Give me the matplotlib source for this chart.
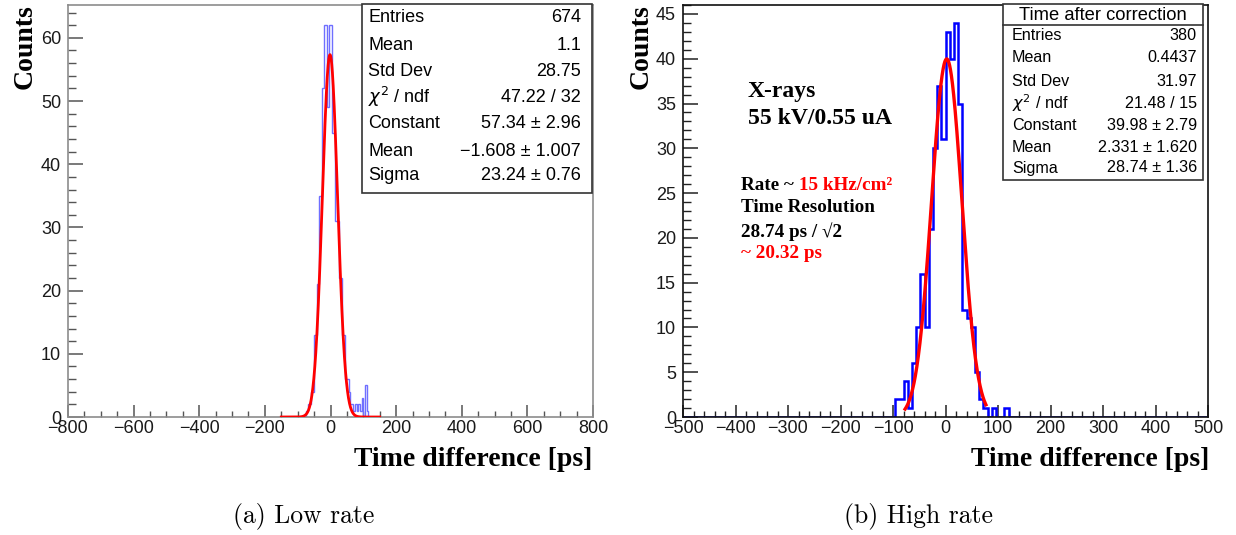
import numpy as np
import matplotlib
matplotlib.use("Agg")
import matplotlib.pyplot as plt
from matplotlib.ticker import MultipleLocator
from matplotlib.patches import Rectangle

# ---------------- data ----------------
left_bin_width = 5
left_first_edge = -75
left_counts = [1, 2, 2, 4, 4, 13, 13, 21, 35, 35, 52, 62, 62, 49, 62, 62,
               45, 45, 31, 31, 22, 22, 13, 13, 6, 6, 4, 2, 2, 1, 2, 1, 2, 1,
               3, 0, 5, 1]
left_fit_constant, left_fit_mean, left_fit_sigma = 57.34, -1.608, 23.24
left_fit_range = (-150, 150)
left_xlim = (-800, 800)
left_ylim = (0, 65.2)

right_bin_width = 8
right_first_edge = -96
right_counts = [2, 2, 4, 1, 6, 10, 16, 10, 21, 30, 37, 31, 43, 40, 44, 35,
                12, 11, 10, 5, 2, 1, 0, 1, 0, 0, 1]
right_fit_constant, right_fit_mean, right_fit_sigma = 39.98, 2.331, 28.74
right_fit_range = (-77, 77)
right_xlim = (-500, 500)
right_ylim = (0, 46)

left_stats_labels = ["Entries", "Mean", "Std Dev", r"$\chi^{2}$ / ndf", "Constant", "Mean", "Sigma"]
left_stats_values = ["674", "1.1", "28.75", "47.22 / 32", "57.34 ± 2.96", "\u22121.608 ± 1.007", "23.24 ± 0.76"]
right_stats_title = "Time after correction"
right_stats_labels = ["Entries", "Mean", "Std Dev", r"$\chi^{2}$ / ndf", "Constant", "Mean", "Sigma"]
right_stats_values = ["380", "0.4437", "31.97", "21.48 / 15", "39.98 ± 2.79", "2.331 ± 1.620", "28.74 ± 1.36"]

xlabel = "Time difference [ps]"
ylabel = "Counts"
captions = ["(a) Low rate", "(b) High rate"]

# ---------------- figure ----------------
W, H = 1236, 535
fig = plt.figure(figsize=(W / 100, H / 100), dpi=100)
fig.patch.set_facecolor("white")

SANS = ["Liberation Sans", "DejaVu Sans"]
SERIF = ["Liberation Serif", "DejaVu Serif"]
plt.rcParams["mathtext.fontset"] = "dejavusans"


def fx(px):
    return px / W


def fy(py):
    return 1 - py / H


def make_axes(x0, x1, y0, y1):
    return fig.add_axes([fx(x0), fy(y1), fx(x1) - fx(x0), fy(y0) - fy(y1)])


def gauss(x, c, m, s):
    return c * np.exp(-0.5 * ((x - m) / s) ** 2)


def style_axes(ax, xmaj, xmin, ymaj, ymin, frame_color, tick_color):
    for sp in ax.spines.values():
        sp.set_color(frame_color)
        sp.set_linewidth(1.2)
    ax.xaxis.set_major_locator(MultipleLocator(xmaj))
    ax.xaxis.set_minor_locator(MultipleLocator(xmin))
    ax.yaxis.set_major_locator(MultipleLocator(ymaj))
    ax.yaxis.set_minor_locator(MultipleLocator(ymin))
    ax.tick_params(axis="both", which="both", direction="in", colors=tick_color,
                   labelcolor="#1a1a1a", top=False, right=False)
    ax.tick_params(axis="x", which="major", length=9, width=1.1, pad=2)
    ax.tick_params(axis="x", which="minor", length=4.5, width=1.0)
    ax.tick_params(axis="y", which="major", length=11, width=1.1, pad=5)
    ax.tick_params(axis="y", which="minor", length=5.5, width=1.0)
    for lab in ax.get_xticklabels() + ax.get_yticklabels():
        lab.set_fontfamily(SANS)
        lab.set_fontsize(13)


# ---------- left panel ----------
axL = make_axes(68, 593, 5, 417)
edges = left_first_edge + left_bin_width * np.arange(len(left_counts) + 1)
axL.stairs(left_counts, edges, color="#6f6fff", linewidth=1.0, zorder=2)
xf = np.linspace(left_fit_range[0], left_fit_range[1], 600)
axL.plot(xf, gauss(xf, left_fit_constant, left_fit_mean, left_fit_sigma),
         color="#ff0000", linewidth=2.0, zorder=3)
axL.set_xlim(*left_xlim)
axL.set_ylim(*left_ylim)
style_axes(axL, 200, 50, 10, 2, "#8c8c8c", "#555555")

# ---------- right panel ----------
axR = make_axes(683, 1208, 5, 417)
n_pad_left = int((right_first_edge - (-504)) / right_bin_width)
full_counts = [0] * n_pad_left + right_counts
full_edges = -504 + right_bin_width * np.arange(len(full_counts) + 1)
tail = int((504 - full_edges[-1]) / right_bin_width)
full_counts = full_counts + [0] * tail
full_edges = -504 + right_bin_width * np.arange(len(full_counts) + 1)
axR.stairs(full_counts, full_edges, color="#0000ff", linewidth=1.8, zorder=2)
xf = np.linspace(right_fit_range[0], right_fit_range[1], 600)
axR.plot(xf, gauss(xf, right_fit_constant, right_fit_mean, right_fit_sigma),
         color="#ff0000", linewidth=2.4, zorder=3)
axR.set_xlim(*right_xlim)
axR.set_ylim(*right_ylim)
style_axes(axR, 100, 20, 5, 1, "#111111", "#222222")

# ---------- axis titles ----------
for xc in (25, 641):
    fig.text(fx(xc), fy(4), ylabel, rotation=90, ha="center", va="top",
             fontfamily=SERIF, fontweight="bold", fontsize=20)
for xr in (592, 1209):
    fig.text(fx(xr), fy(459), xlabel, ha="right", va="center",
             fontfamily=SERIF, fontweight="bold", fontsize=20)

# ---------- captions ----------
fig.text(fx(304), fy(517), captions[0], ha="center", va="center",
         fontfamily="cmr10", fontsize=18.5)
fig.text(fx(918), fy(517), captions[1], ha="center", va="center",
         fontfamily="cmr10", fontsize=18.5)

# ---------- stats boxes ----------
def stats_box(x0, x1, y0, y1, rows_y, labels, values, fs, lx, rx,
              title=None, title_fs=None, title_y=None, sep_y=None):
    fig.patches.append(Rectangle((fx(x0), fy(y1)), fx(x1) - fx(x0), fy(y0) - fy(y1),
                                 transform=fig.transFigure, facecolor="white",
                                 edgecolor="#333333", linewidth=1.2, zorder=5))
    if title is not None:
        fig.text(fx((x0 + x1) / 2), fy(title_y), title, ha="center", va="center",
                 fontfamily=SANS, fontsize=title_fs, zorder=6)
        fig.lines.append(plt.Line2D([fx(x0), fx(x1)], [fy(sep_y), fy(sep_y)],
                                    transform=fig.transFigure, color="#333333",
                                    linewidth=1.2, zorder=6))
    for yy, lab, val in zip(rows_y, labels, values):
        fig.text(fx(lx), fy(yy), lab, ha="left", va="center",
                 fontfamily=SANS, fontsize=fs, zorder=6)
        fig.text(fx(rx), fy(yy), val, ha="right", va="center",
                 fontfamily=SANS, fontsize=fs, zorder=6)


stats_box(362, 592, 4, 193, [18, 45, 71, 97, 124, 151, 176],
          left_stats_labels, left_stats_values, 13, 368, 581)
stats_box(1003, 1203, 4, 180, [36, 58, 81, 103, 125, 147, 168],
          right_stats_labels, right_stats_values, 11.6, 1012, 1197,
          title=right_stats_title, title_fs=13.2, title_y=15, sep_y=25)

# ---------- annotations (right panel) ----------
fig.text(fx(748), fy(91), "X-rays", ha="left", va="center",
         fontfamily=SERIF, fontweight="bold", fontsize=17)
fig.text(fx(748), fy(119), "55 kV/0.55 uA", ha="left", va="center",
         fontfamily=SERIF, fontweight="bold", fontsize=17)
t1 = fig.text(fx(741), fy(186), "Rate ~ ", ha="left", va="center",
              fontfamily=SERIF, fontweight="bold", fontsize=13.8)
ann = matplotlib.text.Annotation(
    "15 kHz/cm²", xy=(1, 0.5), xycoords=t1, va="center", ha="left",
    fontfamily=SERIF, fontweight="bold", fontsize=13.8, color="#ff0000")
ann.set_figure(fig)
fig.texts.append(ann)
fig.text(fx(741), fy(208), "Time Resolution", ha="left", va="center",
         fontfamily=SERIF, fontweight="bold", fontsize=13.8)
fig.text(fx(741), fy(232), "28.74 ps / \u221a2", ha="left", va="center",
         fontfamily=SERIF, fontweight="bold", fontsize=13.8)
fig.text(fx(741), fy(254), "~ 20.32 ps", ha="left", va="center",
         fontfamily=SERIF, fontweight="bold", fontsize=13.8, color="#ff0000")

fig.savefig("out.png", dpi=100, facecolor="white")
